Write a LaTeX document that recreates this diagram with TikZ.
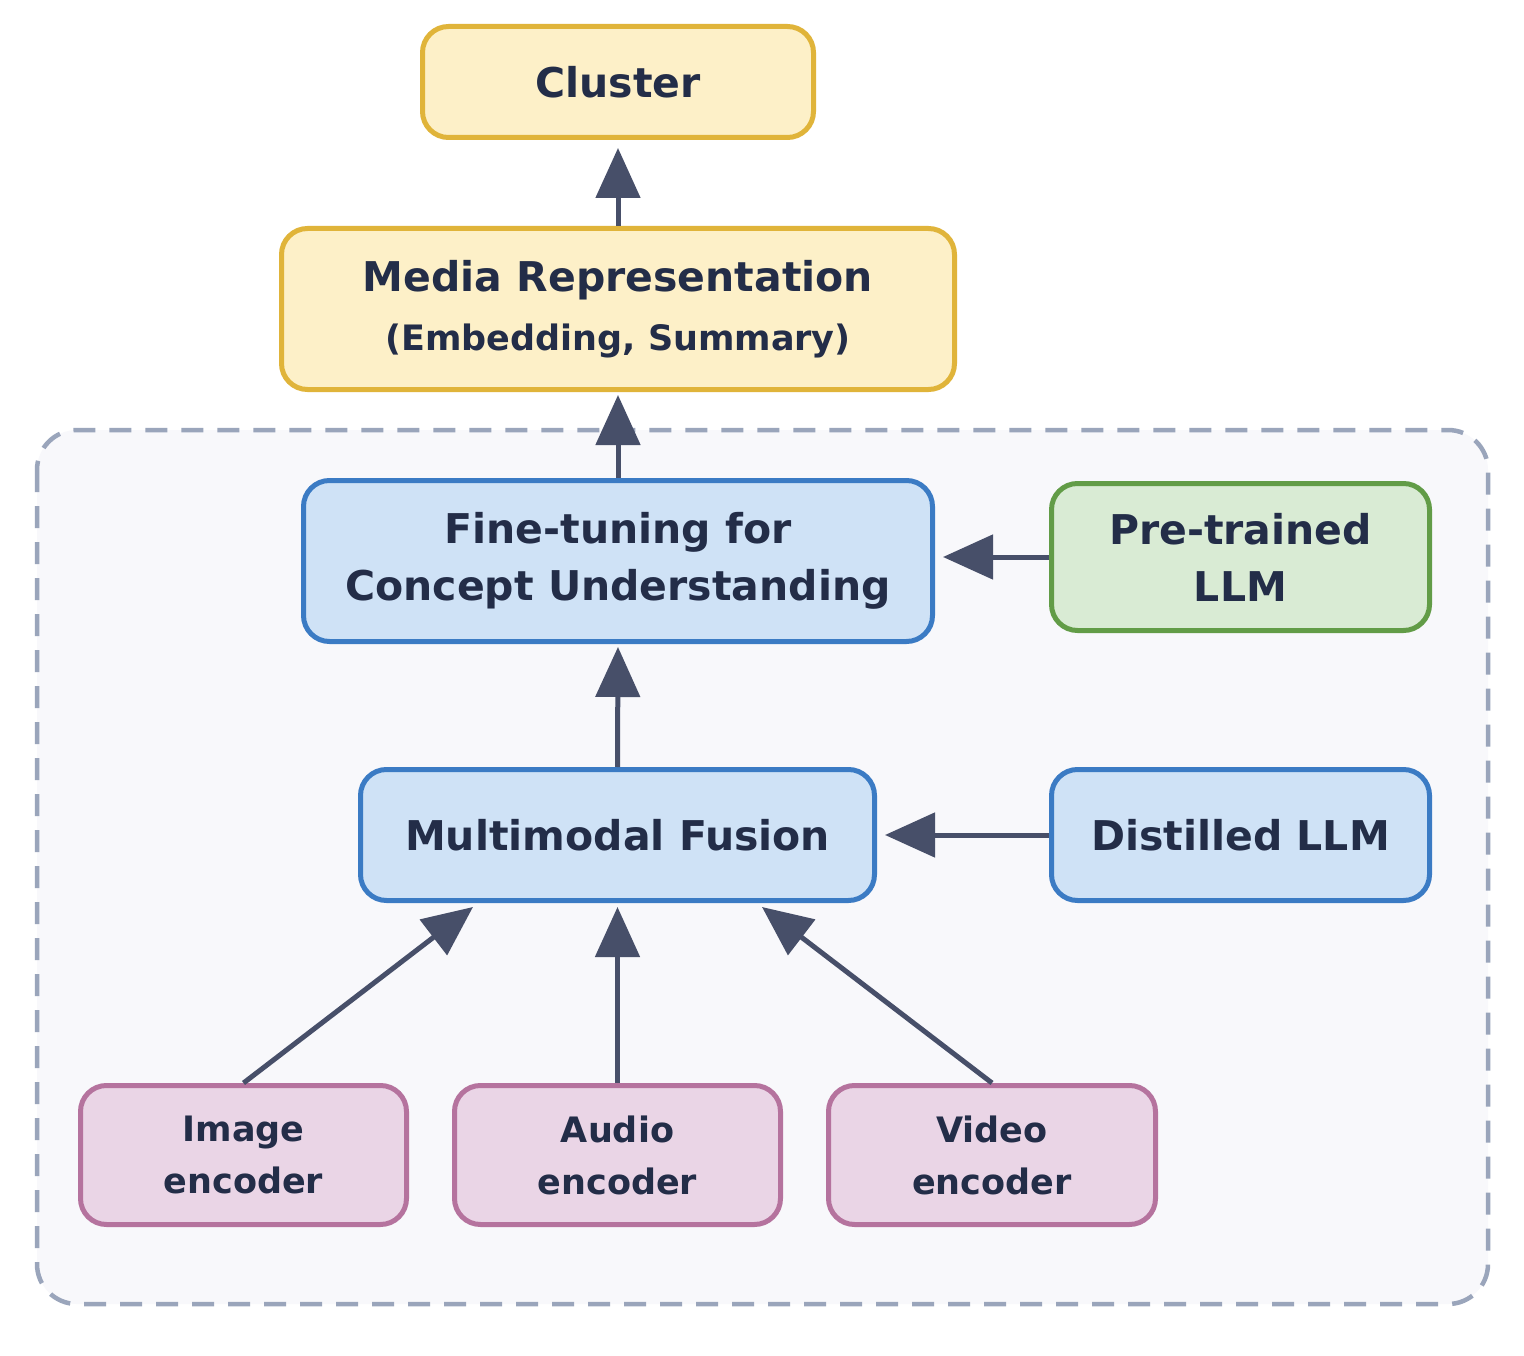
\documentclass[tikz,border=0pt]{standalone}
\usepackage{fontspec}
\setmainfont{DejaVu Sans}
\usetikzlibrary{arrows.meta,calc}
\definecolor{txt}{HTML}{232D48}
\definecolor{arr}{HTML}{474F69}
\definecolor{yelD}{HTML}{E0B43A}\definecolor{yelL}{HTML}{FDF0C8}
\definecolor{bluD}{HTML}{3B7BC4}\definecolor{bluL}{HTML}{CFE2F6}
\definecolor{grnD}{HTML}{629C47}\definecolor{grnL}{HTML}{D9EBD4}
\definecolor{pnkD}{HTML}{B5739E}\definecolor{pnkL}{HTML}{EAD5E6}
\definecolor{boxD}{HTML}{9AA5BB}\definecolor{boxL}{HTML}{F8F8FB}
\tikzset{
  card/.style={draw, line width=5pt, rounded corners=26pt, inner sep=0pt, align=center,
    text=txt, font=\fontsize{41}{57}\selectfont\bfseries},
  yelbox/.style={card, draw=yelD, fill=yelL},
  blubox/.style={card, draw=bluD, fill=bluL},
  grnbox/.style={card, draw=grnD, fill=grnL},
  pnkbox/.style={card, draw=pnkD, fill=pnkL, font=\fontsize{35}{52}\selectfont\bfseries},
  conn/.style={draw=arr, line width=5pt, -{Triangle[length=50pt,width=44pt]}},
}
\begin{document}
\begin{tikzpicture}[x=1pt,y=-1pt]
\useasboundingbox (0,0) rectangle (1524,1356);
\fill[white] (0,0) rectangle (1524,1356);
% container
\draw[draw=boxD, fill=boxL, line width=4.5pt, dash pattern=on 22pt off 14pt, rounded corners=40pt]
  (37,430) rectangle (1488,1304);
% nodes
\node[yelbox, minimum width=391pt, minimum height=111pt] (cluster) at (618,82) {Cluster};
\node[yelbox, minimum width=673pt, minimum height=161pt] (media) at (618,309)
  {Media Representation\\[2pt]{\fontsize{35}{40}\selectfont\bfseries (Embedding, Summary)}};
\node[blubox, minimum width=629pt, minimum height=161pt] (fine) at (618,561)
  {Fine-tuning for\\Concept Understanding};
\node[grnbox, minimum width=378pt, minimum height=147pt] (pre) at (1240.5,557)
  {Pre-trained\\LLM};
\node[blubox, minimum width=514pt, minimum height=131pt] (fusion) at (617.5,835)
  {Multimodal Fusion};
\node[blubox, minimum width=378pt, minimum height=131pt] (dist) at (1240.5,835)
  {Distilled LLM};
\node[pnkbox, minimum width=326pt, minimum height=139pt] (img) at (243.5,1155)
  {Image\\encoder};
\node[pnkbox, minimum width=326pt, minimum height=139pt] (aud) at (617.5,1155)
  {Audio\\encoder};
\node[pnkbox, minimum width=327pt, minimum height=139pt] (vid) at (992,1155)
  {Video\\encoder};
% target points on fusion
\coordinate (fL) at ($(fusion.south)+(-144.5,4)$);
\coordinate (fR) at ($(fusion.south)+(144.5,4)$);
% connectors
\draw[conn, shorten >=8pt] (media.north) -- (cluster.south);
\draw[conn, shorten >=3pt] (fine.north) -- (media.south);
\draw[conn, shorten >=3pt] (fusion.north) -- (fine.south);
\draw[conn, shorten >=8pt] (pre.west) -- (pre.west -| fine.east);
\draw[conn, shorten >=8pt] (dist.west) -- (fusion.east);
\draw[conn] (img.north) -- (fL);
\draw[conn, shorten >=4pt] (aud.north) -- (fusion.south);
\draw[conn] (vid.north) -- (fR);
\end{tikzpicture}
\end{document}
